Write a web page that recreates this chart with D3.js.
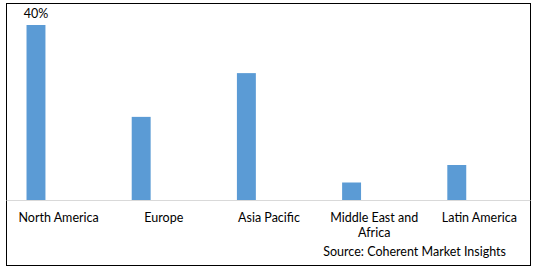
<!DOCTYPE html>
<html><head><meta charset="utf-8">
<script src="https://cdn.jsdelivr.net/npm/d3@7"></script>
<style>body{margin:0;background:#fff}svg{display:block}</style>
</head><body>
<svg id="c" width="538" height="272"></svg>
<script>
const categories = ["North America","Europe","Asia Pacific","Middle East and Africa","Latin America"];
const shares = [40, 19, 29, 4, 8];
const labelShown = ["40%", "", "", "", ""];
const sourceText = "Source: Coherent Market Insights";

const svg = d3.select("#c");
const font = "Lato, sans-serif";
const fs = 12.5;
svg.append("rect").attr("x",6.5).attr("y",3.5).attr("width",524).attr("height",262)
  .attr("fill","#fff").attr("stroke","#000").attr("stroke-width",1);

const x = d3.scaleBand().domain(categories).range([6, 532]);
const y = d3.scaleLinear().domain([0, 40]).range([200, 25]);
const bw = x.bandwidth()*0.18, off = x.bandwidth()*0.195;

svg.append("line").attr("x1",6.5).attr("x2",530.5).attr("y1",200.5).attr("y2",200.5)
  .attr("stroke","#d9d9d9").attr("stroke-width",1);

svg.selectAll("rect.bar").data(categories).join("rect").attr("class","bar")
  .attr("x", d => x(d)+off).attr("width", bw)
  .attr("y", (d,i) => y(shares[i])).attr("height", (d,i) => y(0)-y(shares[i]))
  .attr("fill","#5b9bd5");

svg.selectAll("text.val").data(categories).join("text").attr("class","val")
  .attr("x", d => x(d)+off+bw/2).attr("y", (d,i) => y(shares[i])-7)
  .attr("text-anchor","middle").attr("font-family",font).attr("font-size",fs).attr("fill","#000")
  .text((d,i) => labelShown[i]);

const xAxis = svg.append("g").attr("transform","translate(0,200)")
  .call(d3.axisBottom(x).tickSize(0).tickPadding(0));
xAxis.select(".domain").remove();
xAxis.selectAll("text").attr("font-family",font).attr("font-size",fs).attr("fill","#000")
  .attr("dy",null).attr("y",22)
  .each(function(d){
    const t = d3.select(this); t.text(null);
    const words = d.split(" "); let lines=[], cur=[];
    words.forEach(w => { const test=[...cur,w].join(" "); if(test.length>15 && cur.length){lines.push(cur.join(" ")); cur=[w];} else cur.push(w); });
    lines.push(cur.join(" "));
    lines.forEach((l,i) => t.append("tspan").attr("x",0).attr("dy", i? 15:0).text(l));
  });

svg.append("text").attr("x",506).attr("y",256).attr("text-anchor","end")
  .attr("font-family",font).attr("font-size",fs).attr("fill","#000").text(sourceText);
</script>
</body></html>
